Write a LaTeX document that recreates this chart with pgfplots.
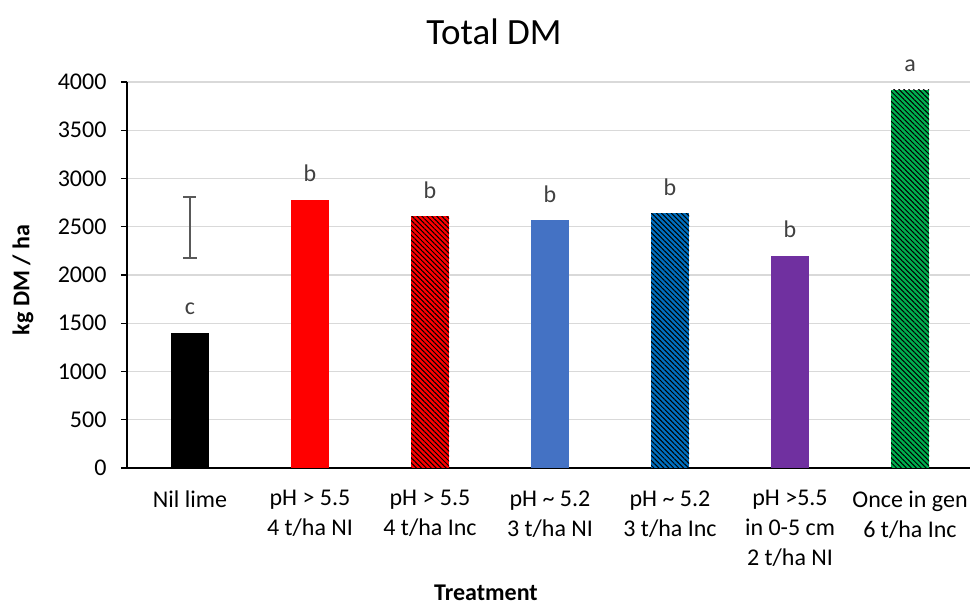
\documentclass[border=0pt]{standalone}
\usepackage{fontspec}
\setmainfont{Carlito}
\usepackage{pgfplots}
\pgfplotsset{compat=1.18}
\usetikzlibrary{patterns.meta}

\definecolor{gridgray}{HTML}{D9D9D9}
\definecolor{lbl}{HTML}{404040}
\definecolor{errgray}{HTML}{595959}
\definecolor{barblue}{HTML}{4472C4}
\definecolor{darkblue}{HTML}{0070C0}
\definecolor{barpurple}{HTML}{7030A0}
\definecolor{bargreen}{HTML}{00B050}

\newcommand\tickfont{\fontsize{24bp}{30bp}\selectfont}

\tikzset{
  hatch/.style={postaction={pattern={Lines[angle=-45,distance=3.5bp,line width=1bp]},pattern color=black}},
}

\pgfplotsset{
  dmbar/.style={ybar, bar width=38bp, bar shift=0pt, draw=none,
    nodes near coords, point meta=explicit symbolic,
    nodes near coords style={anchor=base, yshift=18bp, color=lbl, font=\tickfont}},
}

\begin{document}
\begin{tikzpicture}
\begin{axis}[
  name=main,
  scale only axis, width=843bp, height=386bp,
  xmin=-0.525, xmax=6.5, ymin=0, ymax=4000,
  clip=false,
  axis x line*=bottom, axis y line*=left,
  axis line style={line width=1.2bp, black},
  x axis line style={line width=1.6bp},
  xtick={0,...,6},
  xticklabels={Nil lime,
    {pH > 5.5\\4 t/ha NI},
    {pH > 5.5\\4 t/ha Inc},
    {pH \textasciitilde{} 5.2\\3 t/ha NI},
    {pH \textasciitilde{} 5.2\\3 t/ha Inc},
    {pH >5.5\\in 0-5 cm\\2 t/ha NI},
    {Once in gen\\6 t/ha Inc}},
  xticklabel style={align=center, font=\tickfont, anchor=north, yshift=-13bp},
  major x tick style={draw=none},
  ytick={0,500,...,4000},
  yticklabel style={font=\tickfont, xshift=-11bp},
  /pgf/number format/assume math mode=true,
  /pgf/number format/1000 sep={},
  tick align=outside,
  major tick length=6bp,
  major y tick style={line width=1.2bp, black},
  ymajorgrids,
  grid style={gridgray, line width=1.3bp},
]
\addplot[dmbar, fill=black] coordinates {(0,1400) [c]};
\addplot[dmbar, fill=red] coordinates {(1,2780) [b]};
\addplot[dmbar, fill=red, hatch] coordinates {(2,2610) [b]};
\addplot[dmbar, fill=barblue] coordinates {(3,2565) [b]};
\addplot[dmbar, fill=darkblue, hatch] coordinates {(4,2640) [b]};
\addplot[dmbar, fill=barpurple] coordinates {(5,2200) [b]};
\addplot[dmbar, fill=bargreen, hatch] coordinates {(6,3920) [a]};
% LSD bar
\addplot[draw=none, mark=none, forget plot,
  error bars/.cd, y dir=both, y explicit,
  error bar style={color=errgray, line width=1.3bp},
  error mark options={rotate=90, mark size=6.5bp, line width=1.3bp, errgray}]
  coordinates {(0,2492) +- (0,316)};
\end{axis}
\node[font=\fontsize{37bp}{44bp}\selectfont] at ([xshift=367bp,yshift=436bp]main.south west) {Total DM};
\node[font=\tickfont\bfseries] at ([xshift=359bp,yshift=-125bp]main.south west) {Treatment};
\node[font=\tickfont\bfseries, rotate=90] at ([xshift=-104bp,yshift=188bp]main.south west) {kg DM / ha};
\pgfresetboundingbox
\path ([xshift=-127bp,yshift=-138bp]main.south west) rectangle ([xshift=3bp,yshift=82bp]main.north east);
\end{tikzpicture}
\end{document}
